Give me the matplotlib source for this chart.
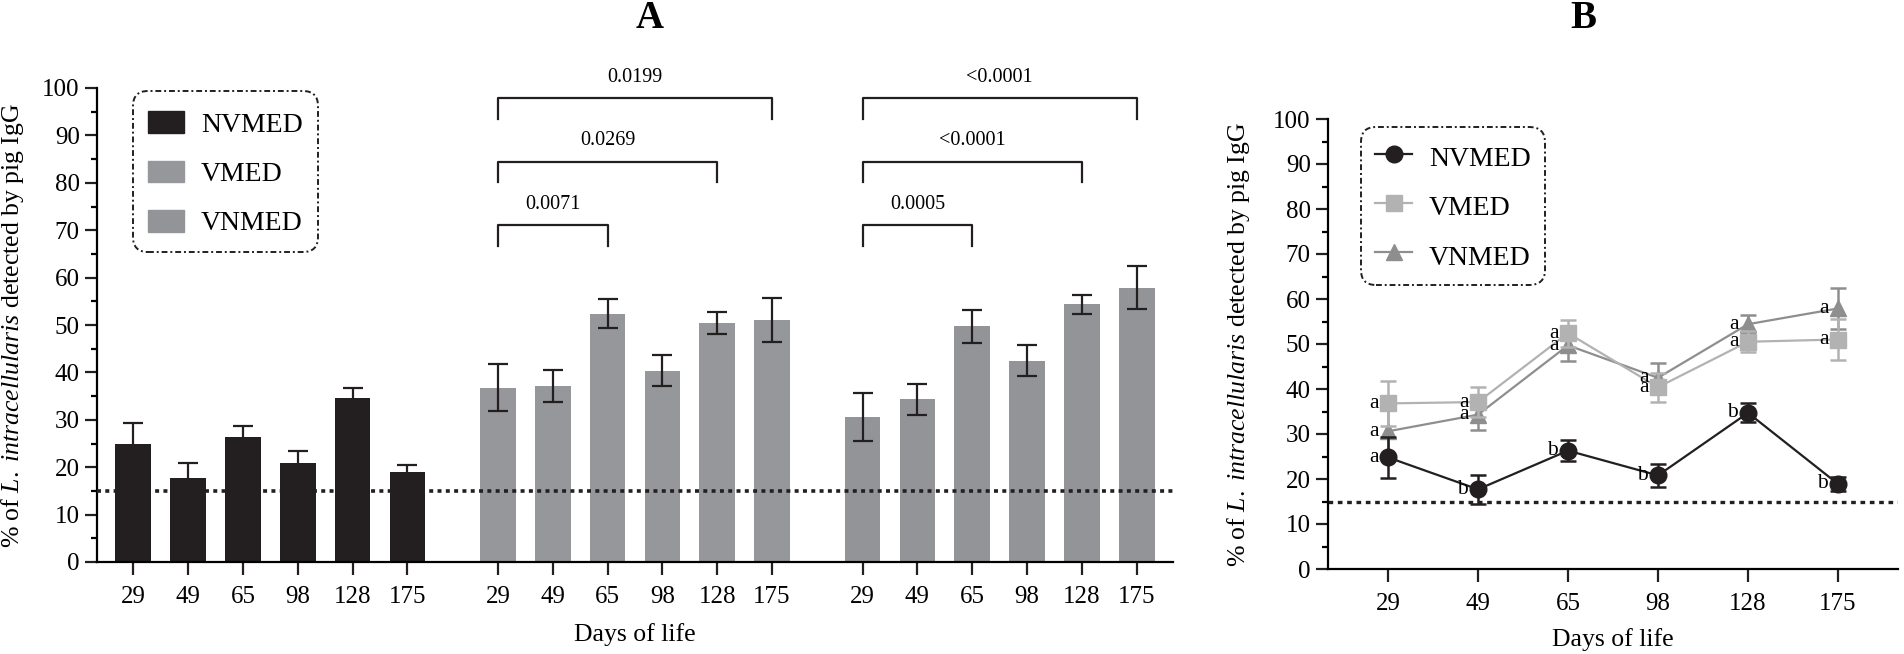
import numpy as np
import matplotlib
matplotlib.use('Agg')
import matplotlib.pyplot as plt
from matplotlib.patches import Patch, Rectangle
from matplotlib.lines import Line2D
from matplotlib.legend_handler import HandlerPatch
from matplotlib.ticker import MultipleLocator

plt.rcParams['font.family'] = 'Liberation Serif'
plt.rcParams['mathtext.fontset'] = 'custom'
plt.rcParams['mathtext.rm'] = 'Liberation Serif'
plt.rcParams['mathtext.it'] = 'Liberation Serif:italic'

# data
days = ['29', '49', '65', '98', '128', '175']
groups = ['NVMED', 'VMED', 'VNMED']
nvmed_mean = [24.8, 17.7, 26.3, 20.8, 34.7, 18.9]
nvmed_err = [4.6, 3.2, 2.3, 2.6, 2.1, 1.6]
vmed_mean = [36.8, 37.1, 52.4, 40.4, 50.5, 51.0]
vmed_err = [5.0, 3.4, 3.0, 3.2, 2.3, 4.6]
vnmed_mean = [30.6, 34.3, 49.7, 42.5, 54.4, 57.9]
vnmed_err = [5.0, 3.3, 3.4, 3.3, 2.0, 4.6]
cutoff = 15

# pairwise comparisons vs day 29 (panel A)
comp_days = ['65', '128', '175']
vmed_p = ['0.0071', '0.0269', '0.0199']
vnmed_p = ['0.0005', '<0.0001', '<0.0001']
bracket_y = [71.0, 84.4, 97.8]

# letters (panel B)
nvmed_letters = ['a', 'b', 'b', 'b', 'b', 'b']
vmed_letters = ['a', 'a', 'a', 'a', 'a', 'a']
vnmed_letters = ['a', 'a', 'a', 'a', 'a', 'a']

col_nv = '#231f20'
col_vm_bar = '#96979a'
col_vn_bar = '#929497'
col_vm_line = '#b2b2b2'
col_vn_line = '#8e8e8e'

W, H = 1904, 654
fig = plt.figure(figsize=(W / 100, H / 100), dpi=100)
axA = fig.add_axes([97 / W, (H - 562) / H, (1173 - 97) / W, (562 - 88) / H])
axB = fig.add_axes([1328 / W, (H - 569) / H, 570 / W, 450 / H])

ylab = r'% of $\mathit{L.\ intracellularis}$ detected by pig IgG'


def bar_handle(legend, orig_handle, xdescent, ydescent, width, height, fontsize):
    h = 0.78 * fontsize
    return Rectangle((-xdescent, -ydescent + (height - h) / 2), width, h)


# ---------- panel A ----------
offsets = [0, 6.65, 13.3]
means = [nvmed_mean, vmed_mean, vnmed_mean]
errs = [nvmed_err, vmed_err, vnmed_err]
bar_cols = [col_nv, col_vm_bar, col_vn_bar]
xpos_all = []
for g in range(3):
    x = np.arange(len(days)) + offsets[g]
    xpos_all.extend(x)
    axA.bar(x, means[g], width=0.65, color=bar_cols[g], zorder=2)
    axA.errorbar(x, means[g], yerr=errs[g], fmt='none', ecolor='#231f20',
                 elinewidth=1.6, capsize=7.2, capthick=1.6, zorder=3)

axA.axhline(cutoff, color='#231f20', lw=2.6, ls=(0, (1.1, 1.2)), zorder=4)

for g, pvals in [(1, vmed_p), (2, vnmed_p)]:
    x0 = offsets[g]
    for d, p, yb in zip(comp_days, pvals, bracket_y):
        x1 = offsets[g] + days.index(d)
        axA.plot([x0, x0, x1, x1], [yb - 4.3, yb, yb, yb - 4.3], color='#231f20',
                 lw=1.6, clip_on=False, zorder=5)
        axA.text((x0 + x1) / 2, yb + 4.5, p, ha='center', va='center', fontsize=14.5)

axA.set_xlim(-0.66, 18.96)
axA.set_ylim(0, 100)
axA.set_xticks(xpos_all)
axA.set_xticklabels(days * 3)
axA.yaxis.set_major_locator(MultipleLocator(10))
axA.yaxis.set_minor_locator(MultipleLocator(5))
axA.set_ylabel(ylab, fontsize=18.5)
axA.yaxis.set_label_coords(-0.066, 0.5)
axA.set_xlabel('Days of life', fontsize=18.5)
axA.xaxis.set_label_coords(0.5, -0.128)

legA = axA.legend([Patch(color=c) for c in bar_cols], groups,
                  handler_map={Patch: HandlerPatch(patch_func=bar_handle)},
                  loc='upper left', bbox_to_anchor=(133 / W, 1 - 91 / H),
                  bbox_transform=fig.transFigure, borderaxespad=0, fontsize=20,
                  handlelength=1.3, handleheight=1.4, handletextpad=0.6,
                  labelspacing=0.62, borderpad=0.55, fancybox=True, framealpha=1)

# ---------- panel B ----------
xb = np.arange(len(days))
series = [
    (nvmed_mean, nvmed_err, col_nv, 'o', 12, nvmed_letters),
    (vmed_mean, vmed_err, col_vm_line, 's', 11, vmed_letters),
    (vnmed_mean, vnmed_err, col_vn_line, '^', 12, vnmed_letters),
]
handles = []
for k, (m, e, c, mk, ms, letters) in enumerate(series):
    axB.errorbar(xb, m, yerr=e, color=c, marker=mk, ms=ms, lw=1.6,
                 elinewidth=1.8, capsize=6, capthick=1.8, zorder=5 - k)
    handles.append(Line2D([], [], color=c, marker=mk, ms=ms, lw=1.6))
    for xi, yi, t in zip(xb, m, letters):
        axB.annotate(t, (xi, yi), xytext=(-7, 0), textcoords='offset points',
                     ha='right', va='center', fontsize=15.5, zorder=6)

axB.axhline(cutoff, color='#231f20', lw=2.4, ls=(0, (1.4, 1.4)), zorder=1)
axB.set_xlim(-0.667, 5.667)
axB.set_ylim(0, 100)
axB.set_xticks(xb)
axB.set_xticklabels(days)
axB.yaxis.set_major_locator(MultipleLocator(10))
axB.yaxis.set_minor_locator(MultipleLocator(5))
axB.set_ylabel(ylab, fontsize=18.5)
axB.yaxis.set_label_coords(-0.133, 0.5)
axB.set_xlabel('Days of life', fontsize=18.5)
axB.xaxis.set_label_coords(0.5, -0.131)

legB = axB.legend(handles, groups, loc='upper left', bbox_to_anchor=(1361 / W, 1 - 127 / H),
                  bbox_transform=fig.transFigure, borderaxespad=0, fontsize=20,
                  handlelength=1.35, handleheight=1.4, handletextpad=0.6,
                  labelspacing=0.62, borderpad=0.5, fancybox=True, framealpha=1)

for leg in (legA, legB):
    fr = leg.get_frame()
    fr.set_edgecolor('#231f20')
    fr.set_linewidth(1.4)
    fr.set_linestyle((0, (3, 1.5, 1, 1.5)))
    fr.set_boxstyle('round', pad=0, rounding_size=0.55)

for ax in (axA, axB):
    ax.spines['top'].set_visible(False)
    ax.spines['right'].set_visible(False)
    ax.spines['left'].set_linewidth(1.6)
    ax.spines['bottom'].set_linewidth(1.6)
    ax.tick_params(axis='both', which='major', direction='out', length=9, width=1.6,
                   labelsize=18, color='#231f20')
    ax.tick_params(axis='y', which='minor', direction='out', length=4.5, width=1.6)
    ax.tick_params(axis='x', pad=8)

fig.text(650 / W, 1 - 18 / H, 'A', ha='center', va='center', fontsize=28, fontweight='bold')
fig.text(1583 / W, 1 - 18 / H, 'B', ha='center', va='center', fontsize=28, fontweight='bold')

fig.savefig('out.png', dpi=100)
